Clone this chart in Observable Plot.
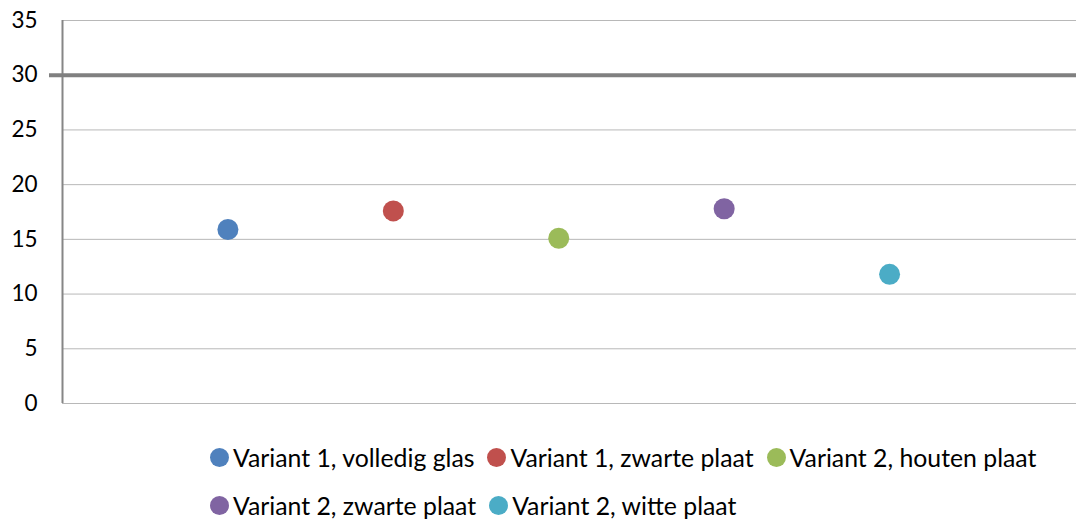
<!DOCTYPE html>
<html>
<head>
<meta charset="utf-8">
<script src="https://cdn.jsdelivr.net/npm/d3@7"></script>
<script src="https://cdn.jsdelivr.net/npm/@observablehq/plot@0.6"></script>
<style>
  html, body { margin: 0; padding: 0; background: #fff; }
  #wrap { position: relative; width: 1076px; height: 520px; overflow: hidden; font-family: "Lato", sans-serif; }
  #legend { position: absolute; top: 433px; left: 210px; width: 866px; display: flex; flex-wrap: wrap; column-gap: 13px; row-gap: 0; }
  .item { display: flex; align-items: center; height: 48px; font-size: 24.8px; color: #000; }
  .sw { width: 19px; height: 19px; border-radius: 50%; margin-right: 4px; flex: none; }
</style>
</head>
<body>
<div id="wrap"><div id="chart"></div><div id="legend"></div></div>
<script>
const categories = ["Variant 1, volledig glas", "Variant 1, zwarte plaat", "Variant 2, houten plaat", "Variant 2, zwarte plaat", "Variant 2, witte plaat"];
const positions = [1, 2, 3, 4, 5];
const values = [15.9, 17.6, 15.1, 17.8, 11.8];
const colors = ["#4f81bd", "#c0504d", "#9bbb59", "#8064a2", "#4bacc6"];
const yTicks = [0, 5, 10, 15, 20, 25, 30, 35];
const referenceLine = [30];

const data = categories.map((c, i) => ({category: c, x: positions[i], y: values[i]}));

const chart = Plot.plot({
  width: 1076,
  height: 430,
  marginLeft: 62,
  marginRight: 0,
  marginTop: 20,
  marginBottom: 27,
  style: {fontFamily: "Lato, sans-serif", background: "#fff"},
  x: {domain: [0, 6.13], axis: null},
  y: {domain: [0, 35], axis: null},
  color: {domain: categories, range: colors},
  marks: [
    Plot.gridY(yTicks, {stroke: "#b8b8b8", strokeOpacity: 1, strokeWidth: 1}),
    Plot.axisY(yTicks, {tickSize: 0, tickPadding: 25, fontSize: 22.5, fill: "#000", label: null}),
    Plot.ruleX([0], {y1: 0, y2: 35, stroke: "#868686", strokeWidth: 2}),
    Plot.ruleY(referenceLine, {stroke: "#808080", strokeWidth: 4, insetLeft: -13}),
    Plot.dot(data, {x: "x", y: "y", fill: "category", r: 10.5, stroke: "none"})
  ]
});
document.getElementById("chart").appendChild(chart);

const legend = document.getElementById("legend");
categories.forEach((c, i) => {
  const item = document.createElement("div");
  item.className = "item";
  const sw = document.createElement("span");
  sw.className = "sw";
  sw.style.background = colors[i];
  const t = document.createElement("span");
  t.textContent = c;
  item.appendChild(sw);
  item.appendChild(t);
  legend.appendChild(item);
});
</script>
</body>
</html>
